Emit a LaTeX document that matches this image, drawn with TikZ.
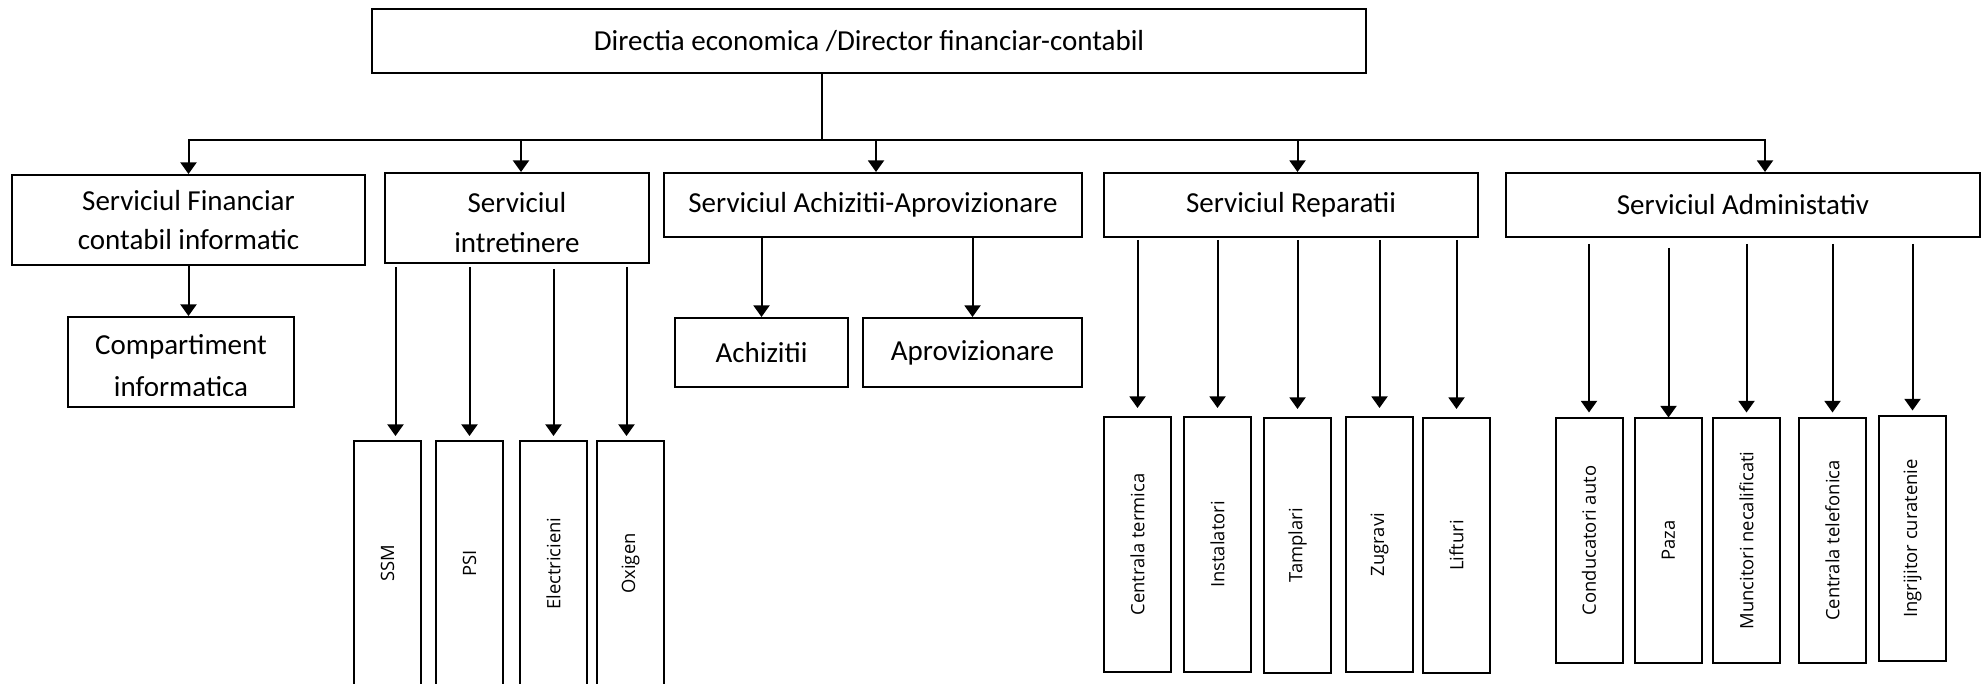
\documentclass[tikz,border=0pt]{standalone}
\usepackage{fontspec}
\setmainfont{Carlito}
\newfontfamily\vertfont{Open Sans}
\usetikzlibrary{arrows.meta}
\usetikzlibrary{calc}

\tikzset{
  box/.style={draw,line width=1pt,inner sep=0pt,align=center,font=\fontsize{14.5}{19.5}\selectfont},
  boxtext/.style={inner sep=0pt,align=center},
  vbox/.style={draw,line width=1pt,inner sep=0pt,minimum width=33.5pt},
  vlabel/.style={rotate=90,inner sep=0pt,font=\vertfont\fontsize{9.2}{11}\selectfont},
  link/.style={line width=1pt},
  arr/.style={line width=1pt,-{Triangle[width=8pt,length=5.8pt]}}
}

\begin{document}
\begin{tikzpicture}[x=0.5pt,y=-0.5pt]
  \useasboundingbox (0,0) rectangle (1988,684);
  \node[box,minimum width=497pt,minimum height=31.75pt] (dir) at (869,40.8) {Directia economica /Director financiar-contabil};

  \node[box,minimum width=176.5pt,minimum height=45pt] (fin) at (188.5,220) {Serviciul Financiar\\contabil informatic};
  \node[box,minimum width=132pt,minimum height=45pt] (intr) at (517,218) {};
  \node[box,minimum width=209pt,minimum height=32pt] (achap) at (873,205) {Serviciul Achizitii-Aprovizionare};
  \node[box,minimum width=187pt,minimum height=32pt] (rep) at (1291,205) {Serviciul Reparatii};
  \node[box,minimum width=237pt,minimum height=32pt] (adm) at (1743,205) {Serviciul Administativ};

  \node[box,minimum width=113pt,minimum height=45pt] (comp) at (181,362) {};
  \node[box,minimum width=86.5pt,minimum height=34.5pt] (achiz) at (761.5,352.5) {Achizitii};
  \node[box,minimum width=109.5pt,minimum height=34.5pt] (aprov) at (972.5,352.5) {Aprovizionare};

  \begin{scope}
    \clip (intr.north west) rectangle ([yshift=5.5pt]intr.south east);
    \node[boxtext,font=\fontsize{14.5}{20}\selectfont] (intr-txt) at (517,223) {Serviciul\\intretinere};
  \end{scope}
  \begin{scope}
    \clip (comp.north west) rectangle ([yshift=6pt]comp.south east);
    \node[boxtext,font=\fontsize{14.5}{21}\selectfont] (comp-txt) at (181,366) {Compartiment\\informatica};
  \end{scope}

  \node[vbox,minimum height=122.5pt,label={[vlabel]center:SSM}] (ssm) at (387.5,563.5) {};
  \node[vbox,minimum height=122.5pt,label={[vlabel]center:PSI}] (psi) at (469.5,563.5) {};
  \node[vbox,minimum height=122.5pt,label={[vlabel]center:Electricieni}] (elec) at (553.5,563.5) {};
  \node[vbox,minimum height=122.5pt,label={[vlabel]center:Oxigen}] (oxi) at (630.5,563.5) {};

  \node[vbox,minimum height=127.5pt,label={[vlabel]center:Centrala termica}] (cterm) at (1137.5,544.5) {};
  \node[vbox,minimum height=127.5pt,label={[vlabel]center:Instalatori}] (inst) at (1217.5,544.5) {};
  \node[vbox,minimum height=127.5pt,label={[vlabel]center:Tamplari}] (tamp) at (1297.5,545.5) {};
  \node[vbox,minimum height=127.5pt,label={[vlabel]center:Zugravi}] (zug) at (1379.5,544.5) {};
  \node[vbox,minimum height=127.5pt,label={[vlabel]center:Lifturi}] (lift) at (1456.5,545.5) {};

  \node[vbox,minimum height=122pt,label={[vlabel]center:Conducatori auto}] (cond) at (1589,540.5) {};
  \node[vbox,minimum height=122pt,label={[vlabel]center:Paza}] (paza) at (1668.5,540.5) {};
  \node[vbox,minimum height=122pt,label={[vlabel]center:Muncitori necalificati}] (munc) at (1746.5,540.5) {};
  \node[vbox,minimum height=122pt,label={[vlabel]center:Centrala telefonica}] (ctel) at (1832.5,540.5) {};
  \node[vbox,minimum height=122pt,label={[vlabel]center:Ingrijitor curatenie}] (ingr) at (1912.5,538.5) {};

  \coordinate (hub) at (822,140);
  \draw[link] (dir.south -| hub) -- (hub);
  \draw[arr] (hub) -| (fin.north);
  \draw[arr] (hub) -| ([xshift=2pt]intr.north);
  \draw[arr] (hub) -| ([xshift=1.5pt]achap.north);
  \draw[arr] (hub) -| ([xshift=3.25pt]rep.north);
  \draw[arr] (hub) -| ([xshift=11pt]adm.north);

  \draw[arr] (fin.south) -- (fin.south |- comp.north);
  \draw[arr] (achiz.north |- achap.south) -- (achiz.north);
  \draw[arr] (aprov.north |- achap.south) -- (aprov.north);

  \draw[arr,shorten <=1.5pt,shorten >=2pt] ($(intr.south -| ssm.north)+(4pt,0)$) -- ($(ssm.north)+(4pt,0)$);
  \draw[arr,shorten <=1.5pt,shorten >=2pt] (intr.south -| psi.north) -- (psi.north);
  \draw[arr,shorten <=2.5pt,shorten >=2pt] (intr.south -| elec.north) -- (elec.north);
  \draw[arr,shorten <=1.5pt,shorten >=2pt] ($(intr.south -| oxi.north)+(-2pt,0)$) -- ($(oxi.north)+(-2pt,0)$);

  \draw[arr,shorten <=1pt,shorten >=4pt] (rep.south -| cterm.north) -- (cterm.north);
  \draw[arr,shorten <=1pt,shorten >=4pt] (rep.south -| inst.north) -- (inst.north);
  \draw[arr,shorten <=1pt,shorten >=4pt] (rep.south -| tamp.north) -- (tamp.north);
  \draw[arr,shorten <=1pt,shorten >=4pt] (rep.south -| zug.north) -- (zug.north);
  \draw[arr,shorten <=1pt,shorten >=4pt] (rep.south -| lift.north) -- (lift.north);

  \draw[arr,shorten <=3pt,shorten >=2.5pt] (adm.south -| cond.north) -- (cond.north);
  \draw[arr,shorten <=5pt] (adm.south -| paza.north) -- (paza.north);
  \draw[arr,shorten <=3pt,shorten >=2.5pt] (adm.south -| munc.north) -- (munc.north);
  \draw[arr,shorten <=3pt,shorten >=2.5pt] (adm.south -| ctel.north) -- (ctel.north);
  \draw[arr,shorten <=3pt,shorten >=2.5pt] (adm.south -| ingr.north) -- (ingr.north);
\end{tikzpicture}
\end{document}
